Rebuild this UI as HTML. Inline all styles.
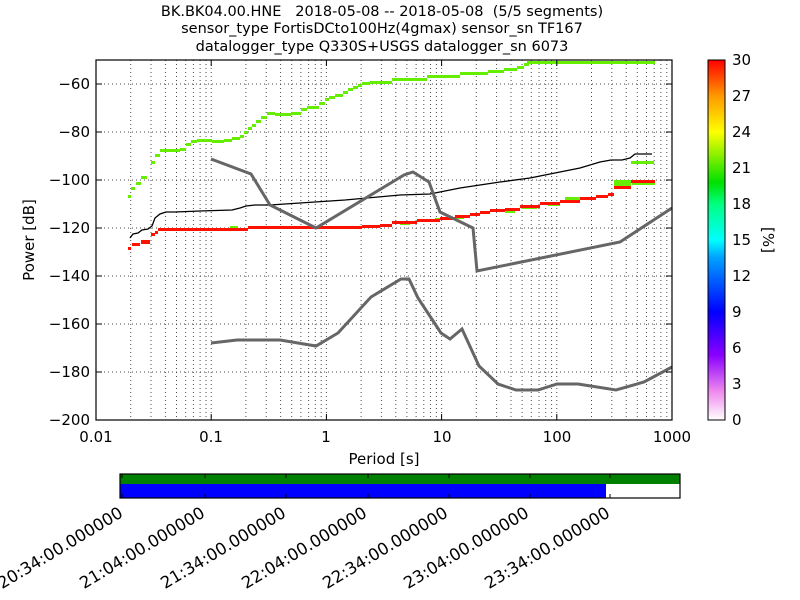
<!DOCTYPE html>
<html><head><meta charset="utf-8"><style>
html,body{margin:0;padding:0;background:#fff;}
svg{display:block;font-family:"DejaVu Sans","Liberation Sans",sans-serif;}
</style></head><body>
<svg width="800" height="600" xmlns="http://www.w3.org/2000/svg">
<defs>
<linearGradient id="cb" x1="0" y1="1" x2="0" y2="0">
<stop offset="0" stop-color="#ffffff"/>
<stop offset="0.08" stop-color="#ee88ee"/>
<stop offset="0.18" stop-color="#8a00ff"/>
<stop offset="0.3" stop-color="#0000ff"/>
<stop offset="0.45" stop-color="#00a0ff"/>
<stop offset="0.5" stop-color="#00ffff"/>
<stop offset="0.6" stop-color="#00ff80"/>
<stop offset="0.66" stop-color="#00e000"/>
<stop offset="0.8" stop-color="#ffff00"/>
<stop offset="0.9" stop-color="#ff9900"/>
<stop offset="1" stop-color="#ff0000"/>
</linearGradient>
</defs>
<g font-size="14.5" text-anchor="middle" fill="#000">
<text x="382" y="16">BK.BK04.00.HNE&#160;&#160;&#160;2018-05-08 -- 2018-05-08&#160;&#160;(5/5 segments)</text>
<text x="382" y="33">sensor_type FortisDCto100Hz(4gmax) sensor_sn TF167</text>
<text x="382" y="51">datalogger_type Q330S+USGS datalogger_sn 6073</text>
</g>
<!-- grid -->
<g stroke="#000" stroke-width="1" stroke-dasharray="1,3" fill="none" opacity="0.7">
<path d="M130.7 60V420M151 60V420M165.4 60V420M176.5 60V420M185.7 60V420M193.4 60V420M200.1 60V420M206 60V420M211.2 60V420
M245.9 60V420M266.2 60V420M280.6 60V420M291.7 60V420M300.9 60V420M308.6 60V420M315.3 60V420M321.2 60V420M326.4 60V420
M361.1 60V420M381.4 60V420M395.8 60V420M406.9 60V420M416.1 60V420M423.8 60V420M430.5 60V420M436.4 60V420M441.6 60V420
M476.3 60V420M496.6 60V420M511 60V420M522.1 60V420M531.3 60V420M539 60V420M545.7 60V420M551.6 60V420M556.8 60V420
M591.5 60V420M611.8 60V420M626.2 60V420M637.3 60V420M646.5 60V420M654.2 60V420M660.9 60V420M666.8 60V420"/>
<path d="M96 84H672M96 132H672M96 180H672M96 228H672M96 276H672M96 324H672M96 372H672"/>
</g>
<!-- green upper -->
<g fill="#66ee00">
<path d="M128 195h3v3h-3zM131 187h4v3h-4zM136 182h5v3h-5zM141 176h6v3h-6zM151 161h4v3h-4zM155 154h5v3h-5zM160 149h20v3h-20zM180 148h6v3h-6zM186 143h5v3h-5zM191 140h6v3h-6zM197 139h15v3h-15zM212 140h12v3h-12zM224 139h8v3h-8zM232 137h8v3h-8zM240 135h4v3h-4zM244 131h4v3h-4zM248 127h4v3h-4zM252 124h4v3h-4zM256 120h5v3h-5zM261 116h6v3h-6zM267 112h8v3h-8zM275 113h16v3h-16zM291 112h10v3h-10zM301 108h6v3h-6zM307 106h12v3h-12zM319 102h6v3h-6zM325 98h4v3h-4zM329 96h6v3h-6zM335 94h8v3h-8zM343 91h5v3h-5zM348 88h5v3h-5zM353 86h5v3h-5zM358 84h4v3h-4zM362 82h8v3h-8zM370 81h22v3h-22zM392 78h35v3h-35zM427 75h33v3h-33zM460 72h28v3h-28zM488 70h16v3h-16zM504 68h13v3h-13zM517 66h7v3h-7zM524 63h5v3h-5zM527 61h128v3h-128z"/>
<path d="M631 161h23v3h-23zM614 180h17v9h-17zM230 226h8v3h-8zM548 203h12v3h-12zM565 197h15v3h-15zM522 206h15v3h-15zM505 210h10v3h-10zM456 216h8v3h-8zM435 218h5v3h-5zM400 222h10v3h-10zM632 180h23v5h-23z"/>
</g>
<!-- red -->
<g fill="#ff1100">
<path d="M128 247h3v3h-3zM132 243h8v3h-8zM141 240h9v4h-9zM151 233h4v3h-4zM155 231h3v3h-3zM158 228h90v3h-90zM248 226h114v3h-114zM362 225h18v3h-18zM380 224h12v3h-12zM392 221h25v3h-25zM417 219h23v3h-23zM440 217h15v3h-15zM455 215h15v3h-15zM470 213h10v3h-10zM480 211h10v3h-10zM490 209h15v3h-15zM505 208h15v3h-15zM520 205h20v3h-20zM540 202h20v3h-20zM560 200h20v3h-20zM580 197h16v3h-16zM596 195h12v3h-12zM608 193h6v3h-6zM614 186h17v3h-17zM631 180h24v3h-24z"/>
</g>
<!-- mean black -->
<polyline fill="none" stroke="#000" stroke-width="1.3" points="130,238 133,234 138,233 142,230 148,229 152,226 155,218 160,214 166,212 175,212 200,211 232,210 240,208 246,206 255,205 270,205 300,203 345,200 400,195 430,194 460,188 500,182 530,178 560,172 580,168 600,162 611,160 622,160 630,158 635,154 652,154"/>
<!-- NHNM -->
<polyline fill="none" stroke="#666" stroke-width="3" points="211,159 251,174 270,205 316,228 404,175 413,172 429,182 440,212 473,228 477,271 620,242 672,208"/>
<!-- NLNM -->
<polyline fill="none" stroke="#666" stroke-width="3" points="211,343 237,340 280,340 316,346 338,333 371,297 401,279 409,279 418,298 441,333 450,339 462,329 479,366 498,384 516,390 538,390 557,384 578,384 616,390 644,382 672,367"/>
<!-- axes frame -->
<rect x="96" y="60" width="576" height="360" fill="none" stroke="#000" stroke-width="1.2"/>
<g stroke="#000" stroke-width="1">
<path d="M96 420v-6M211.2 420v-6M326.4 420v-6M441.6 420v-6M556.8 420v-6M96 60v6M211.2 60v6M326.4 60v6M441.6 60v6M556.8 60v6"/>
<path d="M96 84h6M96 132h6M96 180h6M96 228h6M96 276h6M96 324h6M96 372h6M672 84h-6M672 132h-6M672 180h-6M672 228h-6M672 276h-6M672 324h-6M672 372h-6"/>
</g>
<g font-size="15" text-anchor="end">
<text x="90" y="89">−60</text><text x="90" y="137">−80</text><text x="90" y="185">−100</text>
<text x="90" y="233">−120</text><text x="90" y="281">−140</text><text x="90" y="329">−160</text>
<text x="90" y="377">−180</text><text x="90" y="425">−200</text>
</g>
<g font-size="15" text-anchor="middle">
<text x="96" y="442">0.01</text><text x="211" y="442">0.1</text><text x="326" y="442">1</text>
<text x="442" y="442">10</text><text x="557" y="442">100</text><text x="672" y="442">1000</text>
<text x="384" y="464">Period [s]</text>
</g>
<text font-size="15" text-anchor="middle" transform="translate(34,240) rotate(-90)">Power [dB]</text>
<!-- colorbar -->
<rect x="708" y="60" width="17" height="360" fill="url(#cb)" stroke="#000" stroke-width="1"/>
<g font-size="15">
<text x="732" y="425">0</text><text x="732" y="389">3</text><text x="732" y="353">6</text><text x="732" y="317">9</text>
<text x="732" y="281">12</text><text x="732" y="245">15</text><text x="732" y="209">18</text><text x="732" y="173">21</text>
<text x="732" y="137">24</text><text x="732" y="101">27</text><text x="732" y="65">30</text>
</g>
<text font-size="15" text-anchor="middle" transform="translate(763,240) rotate(90)">[%]</text>
<!-- time bar -->
<rect x="120" y="474" width="560" height="10" fill="#008000"/>
<rect x="120" y="484" width="486" height="14" fill="#0000ff"/>
<rect x="120" y="474" width="560" height="24" fill="none" stroke="#000" stroke-width="1.2"/>
<g stroke="#000" stroke-width="1"><path d="M122 474v4M205 474v4M286 474v4M368 474v4M449 474v4M530 474v4M610 474v4M122 498v-4M205 498v-4M286 498v-4M368 498v-4M449 498v-4M530 498v-4M610 498v-4"/></g>
<g font-size="16.5" text-anchor="end">
<text transform="translate(124,516) rotate(-31)">20:34:00.000000</text>
<text transform="translate(206,516) rotate(-31)">21:04:00.000000</text>
<text transform="translate(287,516) rotate(-31)">21:34:00.000000</text>
<text transform="translate(368,516) rotate(-31)">22:04:00.000000</text>
<text transform="translate(449,516) rotate(-31)">22:34:00.000000</text>
<text transform="translate(530,516) rotate(-31)">23:04:00.000000</text>
<text transform="translate(611,516) rotate(-31)">23:34:00.000000</text>
</g>
</svg>
</body></html>
